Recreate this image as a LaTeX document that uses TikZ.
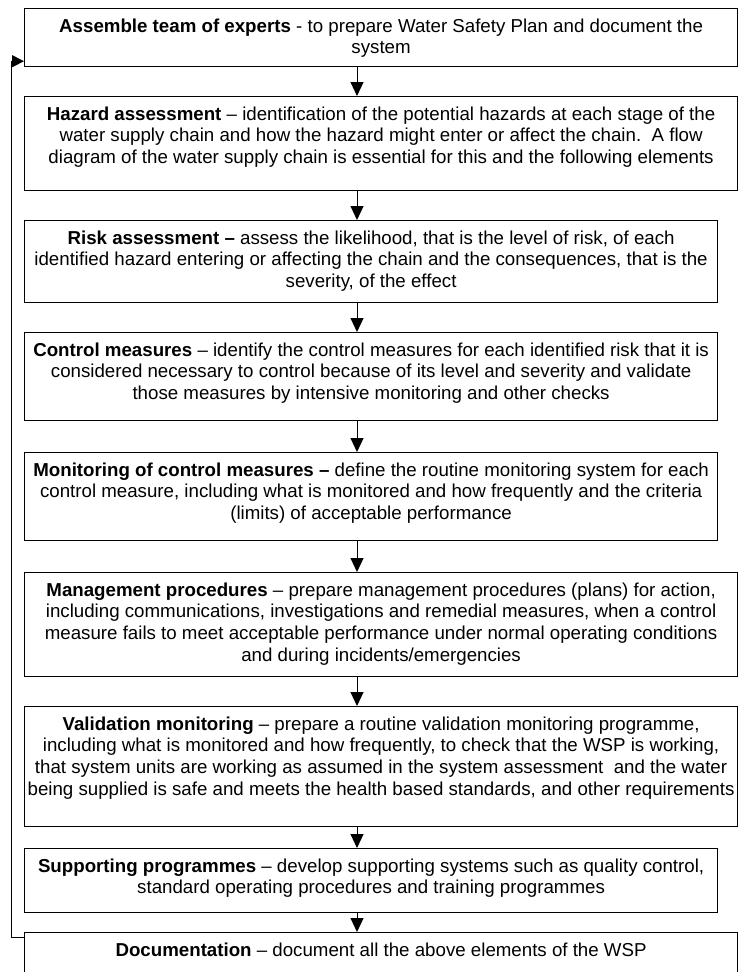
\documentclass[tikz,border=0pt]{standalone}
\usepackage{fontspec}
\setmainfont{Liberation Sans}
\usetikzlibrary{arrows.meta}
\tikzset{
  box/.style={draw=black, line width=1.2pt, rectangle, inner sep=0pt, anchor=north west},
  txt/.style={anchor=north, inner sep=0pt, align=center, font=\fontsize{18.7}{21.6}\selectfont, yshift=-10.5pt},
  arr/.style={draw=black, line width=1pt, -{Triangle[length=14pt,width=13pt]}},
  fbarr/.style={draw=black, line width=1pt, -{Triangle[length=12pt,width=12pt]}}
}
\begin{document}
\begin{tikzpicture}[x=1pt,y=-1pt]
\clip (0,0) rectangle (738,972);
\useasboundingbox (0,0) rectangle (738,972);
% boxes
\node[box, minimum width=713pt, minimum height=58pt] (b1) at (24,8) {};
\node[box, minimum width=713pt, minimum height=94pt] (b2) at (24,96) {};
\node[box, minimum width=693pt, minimum height=82pt] (b3) at (24,220) {};
\node[box, minimum width=693pt, minimum height=88pt] (b4) at (24,332) {};
\node[box, minimum width=693pt, minimum height=88pt] (b5) at (24,452) {};
\node[box, minimum width=713pt, minimum height=104pt] (b6) at (24,572) {};
\node[box, minimum width=713pt, minimum height=120pt] (b7) at (24,706) {};
\node[box, minimum width=693pt, minimum height=64pt] (b8) at (24,848) {};
\node[box, minimum width=713pt, minimum height=70pt] (b9) at (24,932) {};
% texts
\node[txt] (t1) at (b1.north) {\textbf{Assemble team of experts} - to prepare Water Safety Plan and document the\\system};
\node[txt] (t2) at (b2.north) {\textbf{Hazard assessment} -- identification of the potential hazards at each stage of the\\water supply chain and how the hazard might enter or affect the chain.\ \ A flow\\diagram of the water supply chain is essential for this and the following elements};
\node[txt] (t3) at (b3.north) {\textbf{Risk assessment --} assess the likelihood, that is the level of risk, of each\\identified hazard entering or affecting the chain and the consequences, that is the\\severity, of the effect};
\node[txt] (t4) at (b4.north) {\textbf{Control measures} -- identify the control measures for each identified risk that it is\\considered necessary to control because of its level and severity and validate\\those measures by intensive monitoring and other checks};
\node[txt] (t5) at (b5.north) {\textbf{Monitoring of control measures --} define the routine monitoring system for each\\control measure, including what is monitored and how frequently and the criteria\\(limits) of acceptable performance};
\node[txt] (t6) at (b6.north) {\textbf{Management procedures} -- prepare management procedures (plans) for action,\\including communications, investigations and remedial measures, when a control\\measure fails to meet acceptable performance under normal operating conditions\\and during incidents/emergencies};
\node[txt] (t7) at (b7.north) {\textbf{Validation monitoring} -- prepare a routine validation monitoring programme,\\including what is monitored and how frequently, to check that the WSP is working,\\that system units are working as assumed in the system assessment\ \ and the water\\being supplied is safe and meets the health based standards, and other requirements};
\node[txt] (t8) at (b8.north) {\textbf{Supporting programmes} -- develop supporting systems such as quality control,\\standard operating procedures and training programmes};
\node[txt] (t9) at (b9.north) {\textbf{Documentation} -- document all the above elements of the WSP};
% arrows
\coordinate (ax) at (357,0);
\draw[arr] (b1.south -| ax) -- (b2.north -| ax);
\draw[arr] (b2.south -| ax) -- (b3.north -| ax);
\draw[arr] (b3.south -| ax) -- (b4.north -| ax);
\draw[arr] (b4.south -| ax) -- (b5.north -| ax);
\draw[arr] (b5.south -| ax) -- (b6.north -| ax);
\draw[arr] (b6.south -| ax) -- (b7.north -| ax);
\draw[arr] (b7.south -| ax) -- (b8.north -| ax);
\draw[arr] (b8.south -| ax) -- (b9.north -| ax);
% feedback
\draw[fbarr] ([yshift=-5pt]b9.north west) -- ++(-13,0) |- ([yshift=6pt]b1.south west);
\end{tikzpicture}
\end{document}
